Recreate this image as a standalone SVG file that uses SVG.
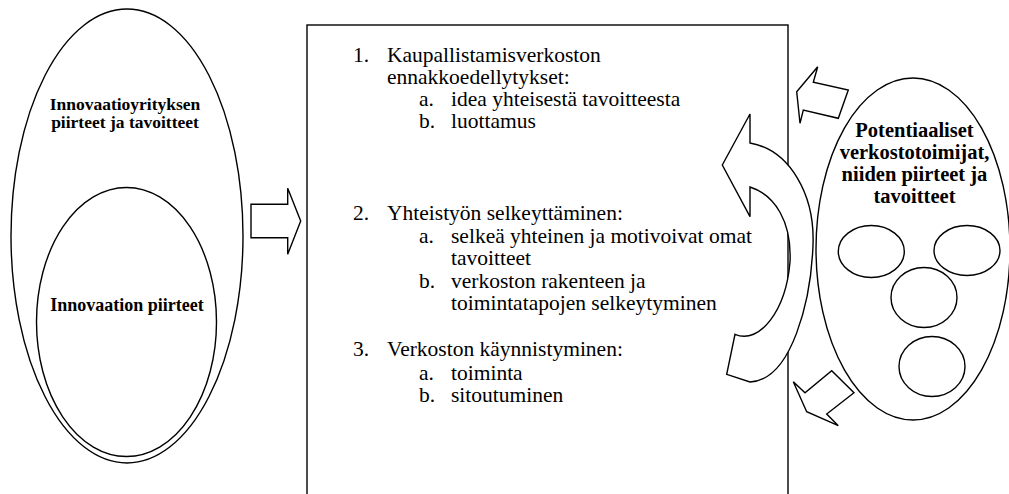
<svg xmlns="http://www.w3.org/2000/svg" width="1009" height="494" viewBox="0 0 1009 494">
<style>
.ln{fill:#fff;stroke:#000;stroke-width:1.4;stroke-linejoin:miter}
text{fill:#000;font-family:'Liberation Serif','Times New Roman',Tinos,Times,'DejaVu Serif',serif}
.b{font-weight:bold;text-anchor:middle}
</style>
<rect width="1009" height="494" fill="#fff"/>
<g id="company">
<ellipse class="ln" cx="127" cy="236" rx="116" ry="227"/>
<text class="b" x="125" y="110" font-size="17.5">Innovaatioyrityksen</text>
<text class="b" x="125" y="128" font-size="17.5">piirteet ja tavoitteet</text>
</g>
<g id="innovation">
<ellipse class="ln" cx="126.5" cy="322" rx="90" ry="134.5"/>
<text class="b" x="127" y="311" font-size="18">Innovaation piirteet</text>
</g>
<g id="process" font-size="21.5">
<rect class="ln" x="307" y="25" width="481" height="490"/>
<text x="353" y="61.5">1.</text><text x="387" y="61.5">Kaupallistamisverkoston</text>
<text x="387" y="83.5">ennakkoedellytykset:</text>
<text x="419" y="106">a.</text><text x="451" y="106">idea yhteisestä tavoitteesta</text>
<text x="419" y="128">b.</text><text x="451" y="128">luottamus</text>
<text x="353" y="220">2.</text><text x="387" y="220">Yhteistyön selkeyttäminen:</text>
<text x="419" y="242.5">a.</text><text x="451" y="242.5">selkeä yhteinen ja motivoivat omat</text>
<text x="451" y="265">tavoitteet</text>
<text x="419" y="287.5">b.</text><text x="451" y="287.5">verkoston rakenteen ja</text>
<text x="451" y="310">toimintatapojen selkeytyminen</text>
<text x="353" y="356">3.</text><text x="387" y="356">Verkoston käynnistyminen:</text>
<text x="419" y="379.5">a.</text><text x="451" y="379.5">toiminta</text>
<text x="419" y="401.5">b.</text><text x="451" y="401.5">sitoutuminen</text>
</g>
<g id="actors">
<ellipse class="ln" cx="913" cy="249" rx="97" ry="171"/>
<text class="b" x="914.5" y="137" font-size="20.5">Potentiaaliset</text>
<text class="b" x="914.5" y="159" font-size="20.5">verkostotoimijat,</text>
<text class="b" x="914.5" y="181" font-size="20.5">niiden piirteet ja</text>
<text class="b" x="914.5" y="203" font-size="20.5">tavoitteet</text>
<ellipse class="ln" cx="871.3" cy="251.5" rx="33" ry="26"/>
<ellipse class="ln" cx="967" cy="250.5" rx="33" ry="25"/>
<ellipse class="ln" cx="924" cy="297.5" rx="33" ry="30"/>
<ellipse class="ln" cx="932" cy="366.5" rx="33" ry="30"/>
</g>
<g id="connectors">
<polygon class="ln" points="251,204.3 287.7,204.3 287.7,188.3 300.7,221 287.7,254.3 287.7,237.7 251,237.7"/>
<path class="ln" d="M722.3,165 L750,114 L750,143 C790,150 815,195 813,245 C811,300 792,380 750,382 L726.7,374.3 L735,334.3 C760,345 786,310 790,262 C792,222 775,195 750,187 L750,216.7 Z"/>
<polygon class="ln" points="796.7,91.7 817.7,66.7 813.3,82.3 848.3,90 838.3,118.3 803.3,110 800,123.3"/>
<polygon class="ln" points="793.3,381.7 805,392.7 831.7,370.7 854,392.7 826.7,414 838.3,425.7 806.7,411.7"/>
</g>
</svg>
